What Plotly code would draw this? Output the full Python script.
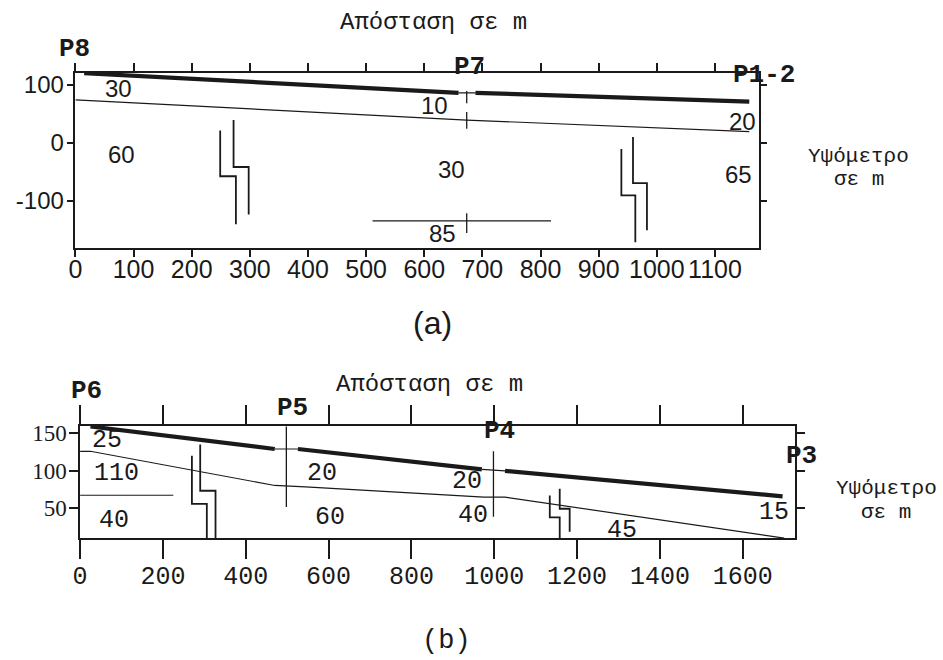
import plotly.graph_objects as go

W, H = 943, 660

# ---------------- Panel (a) data ----------------
A_XTICKS = [0, 100, 200, 300, 400, 500, 600, 700, 800, 900, 1000, 1100]
A_YTICKS = [-100, 0, 100]
A_YTICKTEXT = ["-100", "0", "100"]
A_XRANGE = [0, 1175]
A_YRANGE = [-181, 121]

# surface (thick) : two segments with a thin connector at P7
A_SURF_X = [15, 659, 688, 1159]
A_SURF_Y = [120, 86, 86, 71]
# layer boundary (thin)
A_BOUND_X = [0, 673, 1159]
A_BOUND_Y = [74, 39, 19]
# deep horizontal boundary
A_DEEP_X = [511, 818]
A_DEEP_Y = [-135, -135]
# P7 borehole marks
A_P7_X = 673
A_P7_SEGS = [(89, 68), (53, 24), (-122, -156)]
# faults (two stepped lines each)
A_FAULTS = [
    ([249, 249, 276, 276], [21, -58, -58, -141]),
    ([272, 272, 298, 298], [39, -42, -42, -124]),
    ([939, 939, 963, 963], [-11, -91, -91, -172]),
    ([959, 959, 983, 983], [10, -70, -70, -151]),
]
A_LABELS = ["30", "10", "60", "30", "85", "20", "65"]
A_LABEL_X = [74, 617, 80, 646, 631, 1148, 1141]
A_LABEL_Y = [93, 65, -21, -47, -157, 37, -55]

# ---------------- Panel (b) data ----------------
B_XTICKS = [0, 200, 400, 600, 800, 1000, 1200, 1400, 1600]
B_YTICKS = [50, 100, 150]
B_XRANGE = [0, 1725]
B_YRANGE = [10, 160]

B_SURF_X = [25, 470, 526, 970, 1026, 1696]
B_SURF_Y = [159, 129, 129, 102, 100, 66]
B_BOUND_X = [0, 25, 470, 544, 975, 1026, 1700]
B_BOUND_Y = [126, 126, 80.5, 78.5, 65, 65, 10.5]
B_HORIZ_X = [0, 225]
B_HORIZ_Y = [67.5, 67.5]
B_VERT = [(498, 52, 159), (998, 39, 126)]
B_FAULTS = [
    ([270, 270, 306, 306], [120, 56, 56, 10]),
    ([290, 290, 327, 327], [135, 73.5, 73.5, 10]),
    ([1134, 1134, 1158, 1158], [67, 38, 38, 10]),
    ([1158, 1158, 1182, 1182], [76, 49.5, 49.5, 19]),
]
B_LABELS = ["25", "110", "40", "20", "60", "20", "40", "45", "15"]
B_LABEL_X = [65, 89, 83, 584, 604, 934, 949, 1309, 1676]
B_LABEL_Y = [141, 97, 34, 97, 38.5, 86, 41, 21, 44]

INK = "#1a1a1a"
MONO = "Liberation Mono, Courier New, monospace"
SANS = "Liberation Sans, Arial, sans-serif"

fig = go.Figure()


def seg_trace(xs, ys, width, xa, ya):
    fig.add_trace(go.Scatter(x=xs, y=ys, mode="lines", xaxis=xa, yaxis=ya,
                             line=dict(color=INK, width=width),
                             hoverinfo="skip", showlegend=False))


# ---- panel (a) traces ----
seg_trace(A_SURF_X[0:2], A_SURF_Y[0:2], 4.2, "x", "y")
seg_trace(A_SURF_X[2:4], A_SURF_Y[2:4], 4.2, "x", "y")
seg_trace(A_SURF_X[1:3], A_SURF_Y[1:3], 1.2, "x", "y")
seg_trace(A_BOUND_X, A_BOUND_Y, 1.2, "x", "y")
seg_trace(A_DEEP_X, A_DEEP_Y, 1.2, "x", "y")
for y0, y1 in A_P7_SEGS:
    seg_trace([A_P7_X, A_P7_X], [y0, y1], 1.3, "x", "y")
for fx, fy in A_FAULTS:
    seg_trace(fx, fy, 1.8, "x", "y")

# ---- panel (b) traces ----
seg_trace(B_SURF_X[0:2], B_SURF_Y[0:2], 4.2, "x2", "y2")
seg_trace(B_SURF_X[2:4], B_SURF_Y[2:4], 4.2, "x2", "y2")
seg_trace(B_SURF_X[4:6], B_SURF_Y[4:6], 4.2, "x2", "y2")
seg_trace(B_SURF_X[1:3], B_SURF_Y[1:3], 1.2, "x2", "y2")
seg_trace(B_SURF_X[3:5], B_SURF_Y[3:5], 1.2, "x2", "y2")
seg_trace(B_BOUND_X, B_BOUND_Y, 1.2, "x2", "y2")
seg_trace(B_HORIZ_X, B_HORIZ_Y, 1.2, "x2", "y2")
for vx, y0, y1 in B_VERT:
    seg_trace([vx, vx], [y0, y1], 1.3, "x2", "y2")
for fx, fy in B_FAULTS:
    seg_trace(fx, fy, 1.8, "x2", "y2")

annotations = []
for t, x, y in zip(A_LABELS, A_LABEL_X, A_LABEL_Y):
    annotations.append(dict(text=t, x=x, y=y, xref="x", yref="y", showarrow=False,
                            font=dict(family=SANS, size=24, color=INK)))
for t, x, y in zip(B_LABELS, B_LABEL_X, B_LABEL_Y):
    annotations.append(dict(text=t, x=x, y=y, xref="x2", yref="y2", showarrow=False,
                            font=dict(family=MONO, size=25, color=INK)))


def paper_note(text, px, py, size, family, bold=False, xanchor="center"):
    if bold:
        text = "<b>" + text + "</b>"
    annotations.append(dict(text=text, x=px / W, y=1 - py / H, xref="paper", yref="paper",
                            showarrow=False, xanchor=xanchor, yanchor="middle",
                            font=dict(family=family, size=size, color=INK)))


# titles / side labels
paper_note("Απόσταση σε m", 429, 19, 24, MONO)
paper_note("Υψόμετρο", 858, 153, 21, MONO)
paper_note("σε m", 858, 177, 21, MONO)
paper_note("(a)", 428, 321, 32, SANS)
paper_note("Απόσταση σε m", 425, 383, 24, MONO)
paper_note("Υψόμετρο", 886, 487, 21, MONO)
paper_note("σε m", 886, 512, 21, MONO)
paper_note("(b)", 442, 641, 27, MONO)
# profile point names
paper_note("P8", 67, 45, 26, MONO, bold=True)
paper_note("P7", 465, 63, 26, MONO, bold=True)
paper_note("P1-2", 762, 71, 26, MONO, bold=True)
paper_note("P6", 79, 389, 26, MONO, bold=True)
paper_note("P5", 287, 406, 26, MONO, bold=True)
paper_note("P4", 496, 430, 26, MONO, bold=True)
paper_note("P3", 783, 455, 26, MONO, bold=True, xanchor="left")

axis_common = dict(showline=True, linecolor=INK, linewidth=1.5, mirror="ticks",
                   ticks="outside", tickcolor=INK, tickwidth=1.5, showgrid=False,
                   zeroline=False, fixedrange=True, tickangle=0)

fig.update_layout(
    width=W, height=H,
    margin=dict(l=0, r=0, t=0, b=0),
    paper_bgcolor="white", plot_bgcolor="white",
    showlegend=False,
    xaxis=dict(axis_common, domain=[68 / W, 757 / W], anchor="y", range=A_XRANGE,
               tickvals=A_XTICKS, ticklen=8, ticklabelstandoff=-9,
               tickfont=dict(family=SANS, size=25, color=INK)),
    yaxis=dict(axis_common, domain=[1 - 245 / H, 1 - 69 / H], anchor="x", range=A_YRANGE,
               tickvals=A_YTICKS, ticktext=A_YTICKTEXT, ticklen=7, ticklabelstandoff=-2,
               tickfont=dict(family=SANS, size=24, color=INK)),
    xaxis2=dict(axis_common, domain=[72.7 / W, 793.3 / W], anchor="y2", range=B_XRANGE,
                tickvals=B_XTICKS, ticklen=19, ticklabelstandoff=-5,
                tickfont=dict(family=MONO, size=25, color=INK)),
    yaxis2=dict(axis_common, domain=[1 - 537.7 / H, 1 - 424.3 / H], anchor="x2", range=B_YRANGE,
                tickvals=B_YTICKS, ticklen=9, ticklabelstandoff=-2,
                tickfont=dict(family="Liberation Sans Narrow, Liberation Serif, serif", size=23, color=INK)),
    annotations=annotations,
)

fig.write_html("out.html")
